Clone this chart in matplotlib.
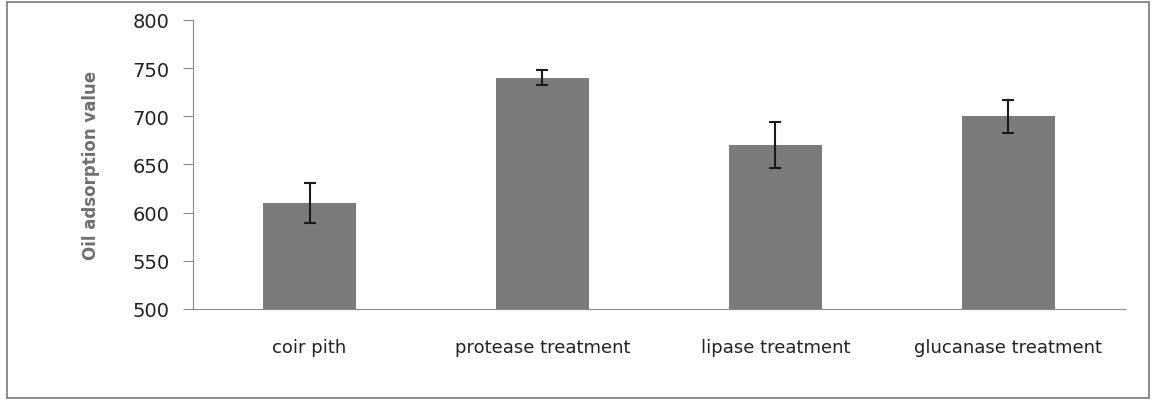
import matplotlib
matplotlib.use('Agg')
import matplotlib.pyplot as plt
from matplotlib.patches import Rectangle

categories = ['coir pith', 'protease treatment', 'lipase treatment', 'glucanase treatment']
values = [610, 740, 670, 700]
errors = [21, 8, 24, 17]
yticks = [500, 550, 600, 650, 700, 750, 800]

plt.rcParams['font.family'] = ['DejaVu Sans']

fig = plt.figure(figsize=(11.56, 4.02), dpi=100)
ax = fig.add_axes([0.167, 0.229, 0.806, 0.719])

x = list(range(len(categories)))
ax.bar(x, values, width=0.4, color='#7b7b7b', zorder=2)
ax.errorbar(x, values, yerr=errors, fmt='none', ecolor='#1a1a1a',
            elinewidth=1.5, capsize=4.5, capthick=1.5, zorder=3)

ax.set_xlim(-0.5, len(categories) - 0.5)
ax.set_ylim(500, 800)
ax.set_yticks(yticks)
ax.set_yticklabels([str(v) for v in yticks], fontsize=14, color='#222222')
ax.set_xticks(x)
ax.set_xticklabels(categories, fontsize=13, color='#222222')
ax.tick_params(axis='x', length=0, pad=21)
ax.tick_params(axis='y', length=7, color='#888888', pad=10)

for s in ['top', 'right']:
    ax.spines[s].set_visible(False)
ax.spines['left'].set_color('#888888')
ax.spines['bottom'].set_color('#888888')

ax.set_ylabel('Oil adsorption value', fontsize=12, fontweight='bold',
              color='#6f6f6f', family=['Liberation Sans Narrow', 'DejaVu Sans'])
ax.yaxis.set_label_coords(-0.1, 0.5)

# outer frame of the chart area
fig.patches.append(Rectangle((0.006, 0.008), 0.988, 0.985, transform=fig.transFigure,
                             fill=False, edgecolor='#777777', linewidth=1.2))

fig.savefig('out.png', dpi=100)
